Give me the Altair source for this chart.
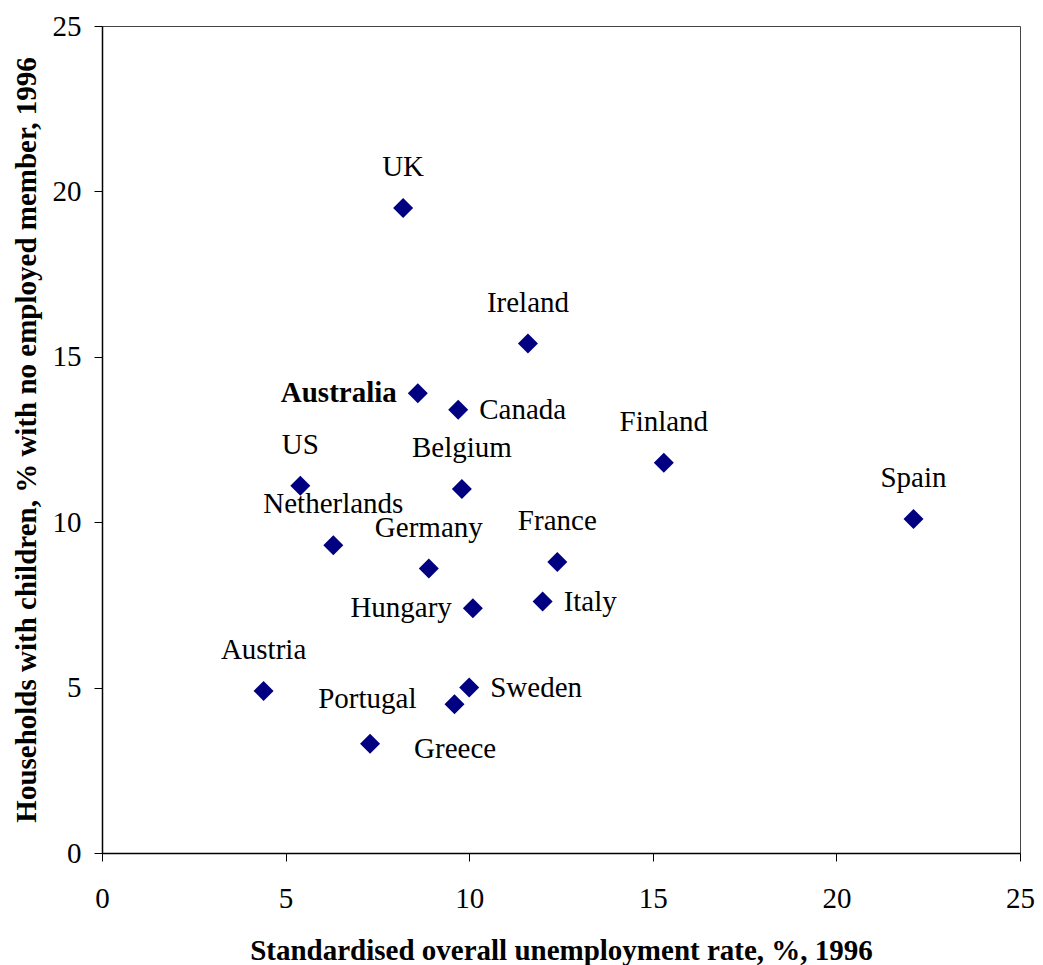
import altair as alt
import pandas as pd

countries = ["UK", "Ireland", "Australia", "Canada", "US", "Belgium", "Finland", "Spain",
             "Netherlands", "Germany", "France", "Hungary", "Italy", "Austria", "Sweden",
             "Portugal", "Greece"]
unemployment = [8.2, 11.6, 8.6, 9.7, 5.4, 9.8, 15.3, 22.1,
                6.3, 8.9, 12.4, 10.1, 12.0, 4.4, 10.0,
                9.6, 7.3]
jobless_households = [19.5, 15.4, 13.9, 13.4, 11.1, 11.0, 11.8, 10.1,
                      9.3, 8.6, 8.8, 7.4, 7.6, 4.9, 5.0,
                      4.5, 3.3]
placement = ["above", "above", "left", "right", "above", "above", "above", "above",
             "above", "above", "above", "left", "right", "above", "right",
             "upleft", "downright"]
bold_label = ["Australia"]

df = pd.DataFrame({
    "country": countries,
    "x": unemployment,
    "y": jobless_households,
    "place": placement,
    "bold": [c in bold_label for c in countries],
})

FONT = "Times New Roman, Liberation Serif, serif"
FS = 29

xenc = alt.X("x:Q", scale=alt.Scale(domain=[0, 25], nice=False),
             axis=alt.Axis(values=[0, 5, 10, 15, 20, 25], title="Standardised overall unemployment rate, %, 1996",
                           titlePadding=23, labelPadding=23, labelFlush=False))
yenc = alt.Y("y:Q", scale=alt.Scale(domain=[0, 25], nice=False),
             axis=alt.Axis(values=[0, 5, 10, 15, 20, 25], title="Households with children, % with no employed member, 1996",
                           titlePadding=11, labelPadding=13, labelFlush=False))

base = alt.Chart(df)

points = base.mark_point(shape="diamond", filled=True, size=400, color="#000080", opacity=1).encode(x=xenc, y=yenc)

def lab(filt, **kw):
    return base.transform_filter(filt).mark_text(font=FONT, fontSize=FS, color="black", **kw).encode(
        x="x:Q", y="y:Q", text="country:N")

above = lab("datum.place == 'above'", align="center", baseline="middle", dy=-41)
left = lab("datum.place == 'left' && !datum.bold", align="right", baseline="middle", dx=-21)
left_b = lab("datum.place == 'left' && datum.bold", align="right", baseline="middle", dx=-21, fontWeight="bold")
right = lab("datum.place == 'right'", align="left", baseline="middle", dx=21)
upleft = lab("datum.place == 'upleft'", align="right", baseline="middle", dx=-38, dy=-5)
downright = lab("datum.place == 'downright'", align="left", baseline="middle", dx=44, dy=5)

chart = alt.layer(points, above, left, left_b, right, upleft, downright).properties(
    width=918, height=827,
    autosize=alt.AutoSizeParams(type="none"),
    padding={"left": 94, "top": 18, "right": 15, "bottom": 112},
).configure_view(
    stroke="#444444", strokeWidth=1
).configure_axis(
    grid=False, domainColor="black", domainWidth=1.5, tickColor="black", tickSize=8, tickWidth=1,
    labelFont=FONT, labelFontSize=FS, labelColor="black",
    titleFont=FONT, titleFontSize=FS, titleFontWeight="bold", titleColor="black",
)

chart.save("out.html", embed_options={"renderer": "svg", "actions": False})
